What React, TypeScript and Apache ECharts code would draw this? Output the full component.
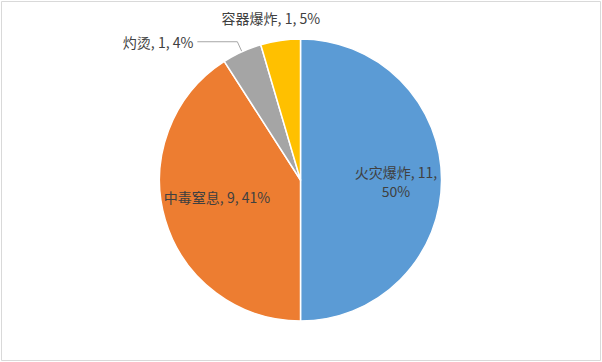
import React, { useEffect, useRef } from "react";
import * as echarts from "echarts";

const categories = ["火灾爆炸", "中毒窒息", "灼烫", "容器爆炸"];
const values = [11, 9, 1, 1];
const pctLabels = ["50%", "41%", "4%", "5%"];
const colors = ["#5B9BD5", "#ED7D31", "#A5A5A5", "#FFC000"];

export default function App() {
  const ref = useRef<HTMLDivElement>(null);
  useEffect(() => {
    document.body.style.margin = "0";
    const chart = echarts.init(ref.current!, null, { renderer: "svg" });
    const insideIdx = [0, 1];
    const data = categories.map((name, i) => ({
      name,
      value: values[i],
      itemStyle: { color: colors[i] },
      label: insideIdx.includes(i)
        ? { position: "inside" }
        : { position: "outside" },
      labelLine: { show: i === 2 },
    }));
    chart.setOption({
      animation: false,
      backgroundColor: "#fff",
      graphic: [
        {
          type: "rect",
          shape: { x: 1.5, y: 1.5, width: 599, height: 359 },
          style: { fill: "none", stroke: "#D9D9D9", lineWidth: 1 },
          silent: true,
        },
      ],
      series: [
        {
          type: "pie",
          center: [300.5, 180],
          radius: [0, 141],
          startAngle: 90,
          clockwise: true,
          avoidLabelOverlap: false,
          itemStyle: { borderColor: "#fff", borderWidth: 1.5 },
          label: {
            color: "#404040",
            fontSize: 14,
            lineHeight: 19,
            fontFamily: '"Noto Sans CJK SC", "Noto Sans", sans-serif',
            distanceToLabelLine: 4,
            formatter: (p: any) =>
              p.dataIndex === 0
                ? `${p.name}, ${p.value},\n${pctLabels[p.dataIndex]}`
                : `${p.name}, ${p.value}, ${pctLabels[p.dataIndex]}`,
          },
          labelLine: {
            length: 11,
            length2: 40,
            lineStyle: { color: "#A6A6A6", width: 1 },
          },
          labelLayout: (p: any) => {
            if (p.dataIndex === 0) return { dx: 22, dy: 1 };
            if (p.dataIndex === 1) return { dx: -13, dy: -4 };
            if (p.dataIndex === 3) return { align: "center", dx: 36, dy: -12 };
            return {};
          },
          data,
        },
      ],
    });
    return () => chart.dispose();
  }, []);
  return <div ref={ref} style={{ width: 602, height: 362 }} />;
}
